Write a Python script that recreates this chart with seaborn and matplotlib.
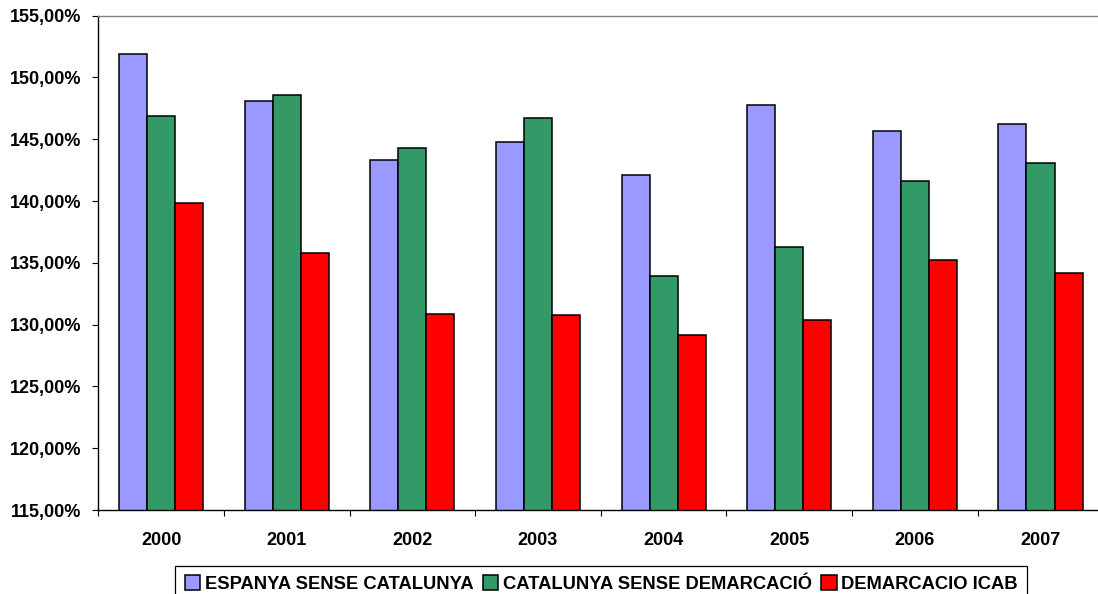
import pandas as pd
import matplotlib
matplotlib.use("Agg")
import matplotlib.pyplot as plt
import seaborn as sns

years = ["2000", "2001", "2002", "2003", "2004", "2005", "2006", "2007"]
espanya = [151.9, 148.1, 143.3, 144.8, 142.1, 147.8, 145.7, 146.2]
catalunya = [146.9, 148.6, 144.3, 146.75, 133.9, 136.3, 141.6, 143.1]
icab = [139.85, 135.8, 130.9, 130.8, 129.2, 130.4, 135.2, 134.2]

series_names = ["ESPANYA SENSE CATALUNYA", "CATALUNYA SENSE DEMARCACIÓ", "DEMARCACIO ICAB"]
colors = ["#9999FF", "#339966", "#FF0000"]
y_ticks = [115, 120, 125, 130, 135, 140, 145, 150, 155]

df = pd.DataFrame({
    "year": years * 3,
    "value": espanya + catalunya + icab,
    "serie": [series_names[0]] * 8 + [series_names[1]] * 8 + [series_names[2]] * 8,
})

sns.set_style("white")
plt.rcParams["font.family"] = ["Liberation Sans", "DejaVu Sans"]
plt.rcParams["text.color"] = "black"
plt.rcParams["xtick.color"] = "black"
plt.rcParams["ytick.color"] = "black"

fig = plt.figure(figsize=(10.98, 5.94), dpi=100)
ax = fig.add_axes([98.3 / 1098, 84 / 594, 1005 / 1098, 494.3 / 594])

sns.barplot(data=df, x="year", y="value", hue="serie", palette=colors,
            width=0.67, edgecolor="black", linewidth=1.1, saturation=1,
            legend=True, ax=ax)

ax.set_ylim(115, 155)
ax.set_xlim(-0.5, 7.5)
ax.set_yticks(y_ticks, [f"{v:.2f}%".replace(".", ",") for v in y_ticks])
ax.set_xlabel("")
ax.set_ylabel("")

# category boundary ticks on x
ax.set_xticks([i - 0.5 for i in range(9)], minor=True)
ax.tick_params(axis="x", which="major", length=0, pad=15.5, labelsize=13, labelcolor="black")
ax.tick_params(axis="x", which="minor", length=4, width=0.8, color="black", direction="out", bottom=True)
ax.tick_params(axis="y", length=4, width=0.8, color="black", direction="out", left=True, pad=8.5,
               labelsize=13, labelcolor="black")
for lab in ax.get_xticklabels() + ax.get_yticklabels():
    lab.set_fontweight("bold")

for side in ["left", "bottom"]:
    ax.spines[side].set_color("black")
    ax.spines[side].set_linewidth(1.0)
for side in ["top", "right"]:
    ax.spines[side].set_color("#808080")
    ax.spines[side].set_linewidth(1.0)

handles, labels = ax.get_legend_handles_labels()
ax.legend_.remove()
leg = fig.legend(handles, labels, loc="upper center", bbox_to_anchor=(601.2 / 1098, 1 - 566 / 594),
                 ncol=3, frameon=True, fancybox=False, framealpha=1, edgecolor="black",
                 handlelength=0.85, handleheight=0.85, handletextpad=0.25, columnspacing=0.5,
                 borderpad=0.5, borderaxespad=0,
                 prop={"size": 13.2, "weight": "bold"})
leg.get_frame().set_linewidth(0.9)
for t in leg.get_texts():
    t.set_color("black")

fig.savefig("out.png", dpi=100)
